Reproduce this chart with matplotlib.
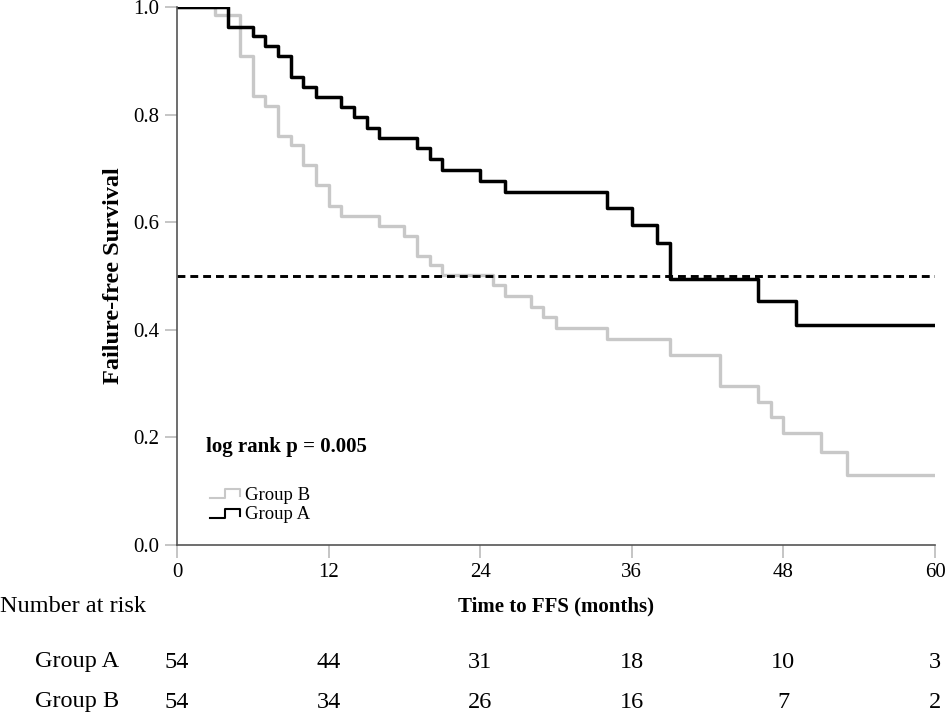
import matplotlib
matplotlib.use("Agg")
import matplotlib.pyplot as plt
from matplotlib.legend_handler import HandlerBase
from matplotlib.lines import Line2D

plt.rcParams['font.family'] = ['Liberation Serif', 'DejaVu Serif']

# Kaplan-Meier step data
time_a = [0, 4, 6, 7, 8, 9, 10, 11, 13, 14, 15, 16, 19, 20, 21, 24, 26, 34, 36, 38, 39, 46, 49, 60]
surv_a = [1.0, 0.963, 0.946, 0.927, 0.908, 0.870, 0.852, 0.833, 0.814, 0.795, 0.776, 0.757,
          0.737, 0.717, 0.697, 0.677, 0.656, 0.627, 0.594, 0.561, 0.495, 0.454, 0.409, 0.409]

time_b = [0, 3, 5, 6, 7, 8, 9, 10, 11, 12, 13, 16, 18, 19, 20, 21, 25, 26, 28, 29, 30, 34,
          39, 43, 46, 47, 48, 51, 53, 60]
surv_b = [1.0, 0.985, 0.908, 0.835, 0.816, 0.760, 0.743, 0.706, 0.669, 0.630, 0.612, 0.593,
          0.575, 0.538, 0.520, 0.501, 0.483, 0.463, 0.443, 0.423, 0.403, 0.382, 0.354, 0.296,
          0.266, 0.237, 0.209, 0.173, 0.130, 0.130]

x_ticks = [0, 12, 24, 36, 48, 60]
y_ticks = [0.0, 0.2, 0.4, 0.6, 0.8, 1.0]
risk_a = [54, 44, 31, 18, 10, 3]
risk_b = [54, 34, 26, 16, 7, 2]
median_line = 0.5

W, H = 946, 714
fig = plt.figure(figsize=(W / 100, H / 100), dpi=100)
ax = fig.add_axes([177 / W, 1 - 545 / H, (935 - 177) / W, (545 - 7) / H])

gray = '#c8c8c8'
ax.step(time_b, surv_b, where='post', color=gray, lw=2.4, label='Group B', zorder=2)
ax.step(time_a, surv_a, where='post', color='black', lw=2.5, label='Group A', zorder=3)
ax.axhline(median_line, color='black', lw=2.1, ls=(0, (2.7, 1.7)), zorder=4)

ax.set_xlim(0, 60)
ax.set_ylim(0, 1.0)
ax.set_xticks(x_ticks)
ax.set_yticks(y_ticks)
ax.set_yticklabels([f"{v:.1f}" for v in y_ticks])
ax.tick_params(axis='both', direction='out', length=9, width=1.2, color='#bbbbbb',
               labelsize=15, pad=4)
for s in ['top', 'right']:
    ax.spines[s].set_visible(False)
for s in ['left', 'bottom']:
    ax.spines[s].set_color('#555555')
    ax.spines[s].set_linewidth(1.2)
ax.spines['left'].set_zorder(5)

ax.set_ylabel('Failure-free Survival', fontsize=17.5, fontweight='bold', labelpad=6)

ax.text(2.3, 0.182, 'log rank p = 0.005', fontsize=15, fontweight='bold',
        va='center', ha='left')


class StepHandler(HandlerBase):
    def create_artists(self, legend, orig_handle, xdescent, ydescent, width, height,
                       fontsize, trans):
        x0 = -xdescent
        y0 = -ydescent
        xs = [x0, x0 + width * 0.5, x0 + width * 0.5, x0 + width, x0 + width]
        ys = [y0 + height * 0.15, y0 + height * 0.15, y0 + height * 0.8,
              y0 + height * 0.8, y0 + height * 0.3]
        ln = Line2D(xs, ys, color=orig_handle.get_color(), lw=1.5, transform=trans)
        return [ln]


hb = Line2D([], [], color=gray)
ha = Line2D([], [], color='black')
leg = ax.legend([hb, ha], ['Group B', 'Group A'], handler_map={Line2D: StepHandler()},
                loc='lower left', bbox_to_anchor=(0.043, 0.04), frameon=False,
                fontsize=13.5, handlelength=1.6, handletextpad=0.3, labelspacing=0.15,
                borderpad=0, borderaxespad=0)

# Number at risk table
fig.text(0 / W, 1 - 606 / H, 'Number at risk', fontsize=17.5, ha='left', va='center')
fig.text(556 / W, 1 - 606 / H, 'Time to FFS (months)', fontsize=15, fontweight='bold',
         ha='center', va='center')
fig.text(35 / W, 1 - 662 / H, 'Group A', fontsize=17.5, ha='left', va='center')
fig.text(35 / W, 1 - 702 / H, 'Group B', fontsize=17.5, ha='left', va='center')
for xt, na, nb in zip(x_ticks, risk_a, risk_b):
    xp = ax.transData.transform((xt, 0))[0]
    xf = fig.transFigure.inverted().transform((xp, 0))[0]
    fig.text(xf, 1 - 662 / H, str(na), fontsize=17.5, ha='center', va='center')
    fig.text(xf, 1 - 702 / H, str(nb), fontsize=17.5, ha='center', va='center')

fig.savefig('out.png', dpi=100)
